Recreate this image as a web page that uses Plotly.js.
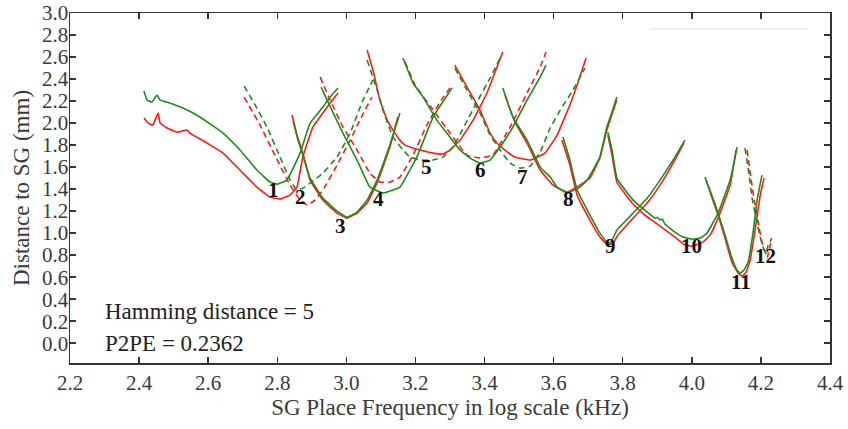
<!DOCTYPE html>
<html>
<head>
<meta charset="utf-8">
<script src="https://cdn.plot.ly/plotly-3.0.1.min.js"></script>
<style>html,body{margin:0;padding:0;background:#fff;}#chart{width:848px;height:429px;}</style>
</head>
<body>
<div id="chart"></div>
<script>
// ---- Data: [SG place frequency (log-scale kHz), distance to SG (mm)] ----
const red_c1 = [[2.414,2.045],[2.426,2.0],[2.440,1.982],[2.455,2.091],[2.461,2.0],[2.481,1.955],[2.510,1.918],[2.539,1.936],[2.547,1.909],[2.597,1.818],[2.643,1.727],[2.692,1.573],[2.741,1.418],[2.779,1.327],[2.808,1.309],[2.837,1.345],[2.857,1.418],[2.874,1.691],[2.903,1.964],[2.932,2.091],[2.953,2.182],[2.976,2.273]];
const green_c1 = [[2.414,2.291],[2.423,2.209],[2.437,2.191],[2.452,2.255],[2.461,2.209],[2.489,2.182],[2.527,2.136],[2.576,2.055],[2.643,1.909],[2.692,1.755],[2.741,1.573],[2.779,1.464],[2.799,1.445],[2.828,1.482],[2.866,1.727],[2.895,2.0],[2.932,2.145],[2.953,2.236],[2.976,2.318]];
const red_c2 = [[2.704,2.236],[2.750,1.982],[2.793,1.709],[2.837,1.436],[2.866,1.300],[2.886,1.255],[2.909,1.300],[2.932,1.391],[2.973,1.618],[3.011,1.845],[3.039,2.027],[3.074,2.236]];
const green_c2 = [[2.704,2.336],[2.736,2.164],[2.770,1.964],[2.808,1.691],[2.837,1.482],[2.857,1.391],[2.874,1.409],[2.895,1.455],[2.932,1.545],[2.973,1.691],[3.011,1.909],[3.048,2.209],[3.077,2.391]];
const red_c3 = [[2.843,2.073],[2.857,1.891],[2.874,1.727],[2.895,1.482],[2.932,1.300],[2.973,1.182],[3.002,1.136],[3.031,1.182],[3.060,1.273],[3.089,1.455],[3.126,1.782],[3.149,2.055]];
const green_c3 = [[2.846,2.018],[2.860,1.845],[2.874,1.709],[2.895,1.500],[2.932,1.318],[2.973,1.200],[3.002,1.145],[3.031,1.191],[3.060,1.300],[3.089,1.482],[3.126,1.800],[3.155,2.091]];
const red_c4 = [[2.924,2.418],[2.953,2.209],[2.990,1.964],[3.031,1.755],[3.068,1.545],[3.097,1.464],[3.126,1.464],[3.155,1.509],[3.193,1.709],[3.233,1.982],[3.271,2.191],[3.300,2.318]];
const green_c4 = [[2.927,2.327],[2.958,2.118],[2.990,1.909],[3.031,1.664],[3.068,1.418],[3.106,1.364],[3.135,1.391],[3.155,1.418],[3.204,1.691],[3.251,2.055],[3.306,2.318]];
const red_c5 = [[3.060,2.664],[3.077,2.482],[3.097,2.209],[3.118,2.027],[3.135,1.936],[3.155,1.845],[3.170,1.800],[3.184,1.782],[3.213,1.755],[3.251,1.727],[3.280,1.718],[3.300,1.755],[3.329,1.845],[3.367,2.027],[3.407,2.273],[3.436,2.509],[3.453,2.645]];
const green_c5 = [[3.060,2.573],[3.089,2.300],[3.106,2.118],[3.135,1.873],[3.164,1.755],[3.184,1.691],[3.213,1.664],[3.251,1.664],[3.280,1.691],[3.309,1.782],[3.343,1.982],[3.381,2.209],[3.416,2.409],[3.445,2.591]];
const red_c6 = [[3.170,2.555],[3.199,2.345],[3.251,2.118],[3.300,1.909],[3.349,1.709],[3.387,1.682],[3.424,1.709],[3.474,1.964],[3.523,2.273],[3.561,2.509],[3.578,2.645]];
const green_c6 = [[3.164,2.591],[3.193,2.364],[3.222,2.236],[3.262,2.027],[3.300,1.873],[3.329,1.755],[3.358,1.682],[3.387,1.636],[3.416,1.664],[3.445,1.782],[3.482,1.964],[3.523,2.209],[3.561,2.418],[3.578,2.527]];
const red_c7 = [[3.314,2.527],[3.349,2.327],[3.387,2.118],[3.416,1.909],[3.436,1.818],[3.459,1.755],[3.488,1.691],[3.532,1.664],[3.575,1.727],[3.610,1.891],[3.647,2.164],[3.671,2.373],[3.694,2.591]];
const green_c7 = [[3.314,2.500],[3.349,2.300],[3.387,2.091],[3.416,1.891],[3.445,1.755],[3.474,1.636],[3.503,1.591],[3.532,1.609],[3.561,1.736],[3.590,1.955],[3.619,2.118],[3.656,2.300],[3.691,2.500]];
const red_c8 = [[3.459,2.255],[3.488,2.009],[3.526,1.800],[3.561,1.573],[3.598,1.436],[3.639,1.373],[3.676,1.436],[3.705,1.500],[3.734,1.682],[3.754,1.936],[3.783,2.209]];
const green_c8 = [[3.453,2.318],[3.482,2.055],[3.523,1.845],[3.561,1.600],[3.590,1.509],[3.610,1.418],[3.639,1.364],[3.676,1.418],[3.697,1.482],[3.714,1.573],[3.734,1.691],[3.754,1.964],[3.769,2.100],[3.783,2.236]];
const red_c9 = [[3.624,1.845],[3.647,1.618],[3.668,1.345],[3.705,1.118],[3.734,0.964],[3.757,0.891],[3.772,0.909],[3.786,0.982],[3.830,1.136],[3.873,1.282],[3.908,1.436],[3.946,1.636],[3.977,1.818]];
const green_c9 = [[3.627,1.873],[3.647,1.664],[3.668,1.391],[3.705,1.164],[3.734,1.000],[3.754,0.918],[3.763,0.909],[3.772,0.955],[3.783,1.027],[3.830,1.182],[3.873,1.327],[3.908,1.482],[3.946,1.664],[3.980,1.845]];
const red_c10 = [[3.757,1.891],[3.769,1.709],[3.783,1.464],[3.807,1.355],[3.830,1.264],[3.864,1.164],[3.908,1.064],[3.951,0.964],[3.980,0.891],[4.003,0.882],[4.032,0.918],[4.053,0.982],[4.076,1.136],[4.111,1.436],[4.128,1.755]];
const green_c10 = [[3.757,1.918],[3.769,1.755],[3.783,1.500],[3.807,1.391],[3.830,1.300],[3.864,1.209],[3.893,1.136],[3.900,1.145],[3.908,1.120],[3.915,1.127],[3.922,1.082],[3.951,1.009],[3.975,0.964],[4.003,0.945],[4.024,0.955],[4.044,1.000],[4.076,1.182],[4.111,1.482],[4.131,1.782]];
const red_c11 = [[4.041,1.482],[4.058,1.327],[4.076,1.164],[4.096,0.955],[4.116,0.736],[4.134,0.636],[4.146,0.609],[4.157,0.645],[4.169,0.755],[4.183,1.027],[4.198,1.345],[4.209,1.500]];
const green_c11 = [[4.038,1.509],[4.058,1.345],[4.076,1.182],[4.096,0.982],[4.116,0.773],[4.131,0.664],[4.140,0.636],[4.151,0.664],[4.163,0.736],[4.177,1.000],[4.189,1.300],[4.203,1.527]];
const red_c12 = [[4.160,1.755],[4.171,1.500],[4.183,1.255],[4.195,1.045],[4.203,0.918],[4.215,0.809],[4.218,0.773],[4.224,0.845],[4.229,0.918]];
const green_c12 = [[4.154,1.773],[4.166,1.527],[4.174,1.327],[4.189,1.091],[4.198,0.964],[4.209,0.845],[4.215,0.818],[4.221,0.891],[4.232,0.955]];

const redCurves = [red_c1, red_c2, red_c3, red_c4, red_c5, red_c6, red_c7, red_c8, red_c9, red_c10, red_c11, red_c12];
const greenCurves = [green_c1, green_c2, green_c3, green_c4, green_c5, green_c6, green_c7, green_c8, green_c9, green_c10, green_c11, green_c12];
// curve numbers drawn dashed for each colour
const redDashed = [2, 4, 6, 12];
const greenDashed = [2, 5, 7, 12];

const curveLabels = ['1','2','3','4','5','6','7','8','9','10','11','12'];
const labelAnchors = [[2.788,1.391],[2.866,1.327],[2.984,1.064],[3.092,1.309],[3.233,1.600],[3.387,1.573],[3.511,1.509],[3.642,1.309],[3.766,0.882],[3.998,0.882],[4.142,0.555],[4.212,0.791]];

const xTicks = [2.2,2.4,2.6,2.8,3.0,3.2,3.4,3.6,3.8,4.0,4.2,4.4];
const yTicks = [0,0.2,0.4,0.6,0.8,1.0,1.2,1.4,1.6,1.8,2.0,2.2,2.4,2.6,2.8,3.0];

// ---- Build traces ----
const RED = '#ff1a1a';
const GREEN = '#1f8a1f';
function mk(pts, color, dashed) {
  return {
    x: pts.map(p => p[0]), y: pts.map(p => p[1]),
    type: 'scatter', mode: 'lines', hoverinfo: 'skip', showlegend: false,
    line: {color: color, width: 1.6, dash: dashed ? '6px,4px' : 'solid', shape: 'spline', smoothing: 0.3}
  };
}
const traces = [];
redCurves.forEach((c, i) => traces.push(mk(c, RED, redDashed.includes(i + 1))));
greenCurves.forEach((c, i) => traces.push(mk(c, GREEN, greenDashed.includes(i + 1))));

const serif = 'Liberation Serif, Times New Roman, serif';
const annotations = curveLabels.map((t, i) => ({
  x: labelAnchors[i][0], y: labelAnchors[i][1], xref: 'x', yref: 'y',
  text: '<b>' + t + '</b>', showarrow: false,
  font: {family: serif, size: 21, color: '#111'}
}));
annotations.push({xref: 'paper', yref: 'paper', x: 0.043, y: 0.146, xanchor: 'left', yanchor: 'middle',
  text: 'Hamming distance = 5', showarrow: false, font: {family: serif, size: 23, color: '#222'}});
annotations.push({xref: 'paper', yref: 'paper', x: 0.043, y: 0.057, xanchor: 'left', yanchor: 'middle',
  text: 'P2PE = 0.2362', showarrow: false, font: {family: serif, size: 23, color: '#222'}});

const axisCommon = {
  showgrid: false, zeroline: false, showline: true, linecolor: '#333', linewidth: 1.5,
  mirror: 'ticks', ticks: 'inside', ticklen: 6, tickwidth: 1.5, tickcolor: '#333',
  tickfont: {family: serif, size: 21, color: '#3a3a3a'}, tickformat: '.1f', tickmode: 'array'
};

const layout = {
  width: 848, height: 429,
  margin: {l: 70, r: 18, t: 13, b: 66},
  paper_bgcolor: '#fff', plot_bgcolor: '#fff',
  xaxis: Object.assign({}, axisCommon, {range: [2.2, 4.4], tickvals: xTicks,
    title: {text: 'SG Place Frequency in log scale (kHz)', font: {family: serif, size: 23, color: '#3a3a3a'}, standoff: 2}}),
  yaxis: Object.assign({}, axisCommon, {range: [-0.18, 3.0], tickvals: yTicks, ticklabelstandoff: -4,
    title: {text: 'Distance to SG (mm)', font: {family: serif, size: 23, color: '#3a3a3a'}, standoff: 6}}),
  annotations: annotations,
  shapes: [{type: 'line', xref: 'paper', yref: 'paper', x0: 0.763, x1: 0.970, y0: 0.954, y1: 0.954,
    line: {color: '#dddddd', width: 1}}]
};

Plotly.newPlot('chart', traces, layout, {displayModeBar: false, staticPlot: true});
</script>
</body>
</html>
